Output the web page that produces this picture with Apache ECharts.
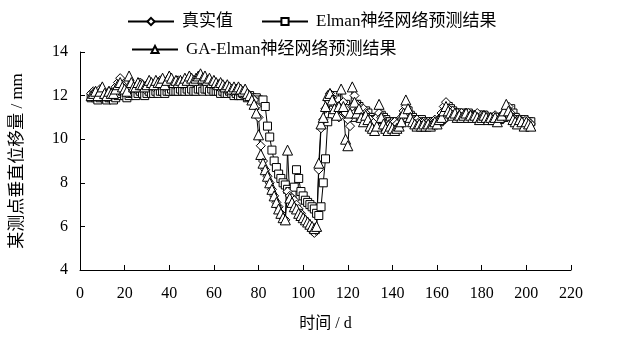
<!DOCTYPE html>
<html>
<head>
<meta charset="utf-8">
<script src="https://cdn.jsdelivr.net/npm/echarts@6/dist/echarts.min.js"></script>
<style>
  html, body { margin: 0; padding: 0; background: #fff; }
  #chart { width: 620px; height: 337px; }
</style>
</head>
<body>
<div id="chart"></div>
<script>
// 观测起始日（每日一个点）
const firstDay = 5

// 真实值
const trueValues = [
  12.1, 12.2, 12.0, 12.1, 12.3, 12.2, 12.0, 12.1, 12.2, 12.0,
  12.2, 12.4, 12.6, 12.8, 12.5, 12.2, 12.1, 12.3, 12.5, 12.4,
  12.3, 12.5, 12.6, 12.4, 12.3, 12.4, 12.6, 12.5, 12.4, 12.6,
  12.5, 12.7, 12.6, 12.4, 12.6, 12.8, 12.7, 12.5, 12.6, 12.7,
  12.6, 12.5, 12.7, 12.6, 12.8, 12.7, 12.6, 12.7, 12.8, 12.9,
  12.7, 12.8, 12.6, 12.7, 12.5, 12.6, 12.5, 12.4, 12.5, 12.4,
  12.3, 12.4, 12.3, 12.2, 12.3, 12.2, 12.3, 12.2, 12.1, 12.2,
  12.0, 12.0, 11.9, 11.8, 11.5, 11.0, 9.7, 9.0, 8.6, 8.3,
  8.0, 7.7, 7.4, 7.1, 6.9, 6.6, 6.4, 6.3, 7.6, 7.4,
  7.3, 7.2, 7.0, 6.8, 6.6, 6.4, 6.3, 6.1, 6.0, 5.8,
  5.7, 5.8, 8.6, 10.5, 10.9, 11.4, 11.8, 12.1, 11.9, 11.6,
  11.3, 11.0, 11.4, 11.7, 11.2, 10.9, 10.6, 11.5, 12.0, 11.6,
  11.3, 11.1, 11.4, 11.2, 11.0, 10.9, 10.7, 10.8, 11.0, 11.2,
  11.0, 10.8, 10.7, 10.6, 10.7, 10.6, 10.8, 10.7, 10.6, 11.0,
  11.3, 11.5, 11.2, 11.0, 10.9, 10.8, 10.9, 10.8, 10.7, 10.8,
  10.7, 10.8, 10.7, 10.8, 10.9, 10.8, 10.9, 11.2, 11.5, 11.7,
  11.4, 11.2, 11.3, 11.1, 11.2, 11.1, 11.2, 11.0, 11.1, 11.2,
  11.1, 11.0, 11.1, 11.2, 11.0, 11.1, 11.0, 11.1, 11.0, 10.9,
  11.0, 11.1, 11.0, 10.9, 11.0, 11.2, 11.4, 11.5, 11.2, 11.0,
  10.9, 10.8, 10.9, 10.7, 10.8, 10.9, 10.8, 10.7
]

// Elman神经网络预测结果
const elmanValues = [
  11.9, 12.0, 11.9, 11.8, 11.9, 12.0, 11.9, 11.8, 11.9, 11.9,
  11.8, 11.9, 12.0, 12.1, 12.2, 12.0, 11.9, 12.0, 12.1, 12.1,
  12.0, 12.1, 12.2, 12.1, 12.0, 12.1, 12.2, 12.1, 12.1, 12.2,
  12.1, 12.2, 12.2, 12.1, 12.2, 12.2, 12.3, 12.2, 12.2, 12.2,
  12.3, 12.2, 12.2, 12.3, 12.2, 12.3, 12.2, 12.2, 12.3, 12.3,
  12.2, 12.3, 12.3, 12.2, 12.3, 12.2, 12.2, 12.2, 12.1, 12.2,
  12.1, 12.1, 12.2, 12.1, 12.0, 12.1, 12.0, 12.0, 12.1, 12.0,
  11.9, 12.0, 11.9, 11.8, 11.9, 11.8, 11.7, 11.8, 11.5, 10.6,
  10.1, 9.5, 9.0, 8.7, 8.4, 8.2, 8.0, 7.9, 7.7, 7.6,
  7.5, 7.8, 8.6, 8.2, 7.6, 7.4, 7.2, 7.1, 7.0, 6.9,
  6.8, 6.6, 6.5, 6.9, 8.0, 9.1, 10.8, 11.7, 11.9, 12.0,
  11.8, 11.5, 11.3, 11.5, 11.6, 11.4, 11.1, 11.0, 11.3, 11.6,
  11.5, 11.3, 11.2, 11.3, 11.2, 11.0, 10.9, 10.8, 10.9, 11.0,
  11.1, 11.0, 10.9, 10.8, 10.8, 10.7, 10.8, 10.8, 10.7, 10.8,
  11.0, 11.2, 11.3, 11.1, 11.0, 10.9, 10.9, 10.8, 10.9, 10.8,
  10.8, 10.7, 10.8, 10.8, 10.7, 10.8, 10.8, 10.9, 11.0, 11.3,
  11.5, 11.4, 11.3, 11.2, 11.2, 11.1, 11.2, 11.1, 11.1, 11.2,
  11.1, 11.1, 11.0, 11.1, 11.1, 11.0, 11.1, 11.0, 11.0, 11.0,
  10.9, 11.0, 11.0, 10.9, 11.0, 11.0, 11.1, 11.3, 11.4, 11.2,
  11.0, 10.9, 10.8, 10.8, 10.9, 10.8, 10.8, 10.8
]

// GA-Elman神经网络预测结果
const gaElmanValues = [
  12.0, 12.1, 12.2, 12.0, 12.2, 12.4, 12.1, 12.0, 12.2, 12.1,
  12.1, 12.3, 12.5, 12.6, 12.4, 12.3, 12.2, 12.9, 12.6, 12.4,
  12.4, 12.6, 12.5, 12.5, 12.4, 12.5, 12.7, 12.6, 12.5, 12.7,
  12.6, 12.6, 12.8, 12.5, 12.7, 12.9, 12.8, 12.6, 12.7, 12.6,
  12.7, 12.6, 12.8, 12.7, 12.9, 12.8, 12.7, 12.8, 12.9, 13.0,
  12.8, 12.9, 12.7, 12.8, 12.6, 12.7, 12.6, 12.5, 12.6, 12.5,
  12.4, 12.5, 12.4, 12.3, 12.4, 12.3, 12.4, 12.3, 12.2, 12.3,
  12.1, 12.0, 11.8, 11.6, 11.2, 10.2, 9.3, 8.9, 8.6, 8.3,
  8.0, 7.7, 7.4, 7.1, 6.8, 6.6, 6.4, 6.3, 9.5, 7.3,
  7.1, 6.9, 6.8, 6.6, 6.5, 6.4, 6.3, 6.2, 6.1, 6.0,
  5.9, 6.0, 8.9, 10.7, 11.0, 11.5, 12.0, 12.1, 11.8, 11.4,
  11.1, 11.5, 12.3, 11.5, 10.0, 9.7, 11.2, 12.4, 11.7, 11.2,
  11.4, 11.0, 10.8, 11.1, 10.9, 10.6, 10.5, 10.4, 10.6, 11.6,
  11.0, 10.7, 10.5, 10.4, 10.6, 10.5, 10.4, 10.5, 10.6, 10.8,
  11.2, 11.8, 11.4, 11.0, 10.8, 10.7, 10.6, 10.7, 10.6, 10.7,
  10.6, 10.7, 10.6, 10.7, 10.8, 10.7, 10.9, 11.0, 11.3, 11.5,
  11.3, 11.2, 11.1, 11.2, 11.0, 11.1, 11.0, 11.1, 11.2, 11.0,
  11.1, 11.0, 11.1, 11.0, 10.9, 11.0, 11.1, 11.0, 10.9, 11.0,
  10.9, 11.0, 10.8, 11.0, 11.1, 11.3, 11.6, 11.3, 11.1, 10.9,
  10.8, 10.7, 10.9, 10.8, 10.6, 10.8, 10.7, 10.6
]

const xTicks = { min: 0, max: 220, interval: 20 }
const yTicks = { min: 4, max: 14, interval: 2 }

const FONT = "'Liberation Serif', 'Noto Sans CJK SC', serif"
const BLACK = '#000'

function toPairs (values) {
  return values.map((v, i) => [firstDay + i, v])
}

function lineSeries (name, symbol, size, values) {
  return {
    name,
    type: 'line',
    symbol,
    symbolSize: size,
    showAllSymbol: true,
    smooth: false,
    lineStyle: { color: BLACK, width: 1 },
    itemStyle: { color: '#fff', borderColor: BLACK, borderWidth: 1 },
    emphasis: { disabled: true },
    data: toPairs(values)
  }
}

function legendAt (name, left, top) {
  return {
    data: [name],
    left,
    top,
    itemWidth: 46,
    itemHeight: 9,
    itemGap: 4,
    textStyle: { fontFamily: FONT, fontSize: 17, color: BLACK, padding: [0, 0, 0, 3] },
    inactiveColor: BLACK
  }
}

const chart = echarts.init(document.getElementById('chart'), null, { renderer: 'canvas' })

const axisCommon = {
  axisLine: { lineStyle: { color: BLACK, width: 1 } },
  axisTick: { inside: true, length: 5, lineStyle: { color: BLACK } },
  axisLabel: { color: BLACK, fontFamily: FONT, fontSize: 16 },
  splitLine: { show: false },
  nameTextStyle: { color: BLACK, fontFamily: FONT, fontSize: 17 }
}

chart.setOption({
  animation: false,
  backgroundColor: '#fff',
  legend: [
    legendAt('真实值', 122, 8),
    legendAt('Elman神经网络预测结果', 256, 8),
    legendAt('GA-Elman神经网络预测结果', 126, 36)
  ],
  grid: { left: 80, right: 49, top: 52, bottom: 65, containLabel: false },
  xAxis: Object.assign({}, axisCommon, {
    type: 'value',
    min: xTicks.min,
    max: xTicks.max,
    interval: xTicks.interval,
    name: '时间 / d',
    nameLocation: 'middle',
    nameGap: 46,
    nameTextStyle: { color: BLACK, fontFamily: FONT, fontSize: 16 },
    axisLabel: Object.assign({}, axisCommon.axisLabel, { margin: 16 })
  }),
  yAxis: Object.assign({}, axisCommon, {
    type: 'value',
    min: yTicks.min,
    max: yTicks.max,
    interval: yTicks.interval,
    name: '某测点垂直位移量 / mm',
    nameLocation: 'middle',
    nameGap: 54,
    axisLabel: Object.assign({}, axisCommon.axisLabel, { margin: 12 })
  }),
  series: [
    lineSeries('Elman神经网络预测结果', 'rect', 8, elmanValues),
    lineSeries('真实值', 'diamond', 9, trueValues),
    lineSeries('GA-Elman神经网络预测结果', 'triangle', 10, gaElmanValues)
  ]
})
</script>
</body>
</html>
